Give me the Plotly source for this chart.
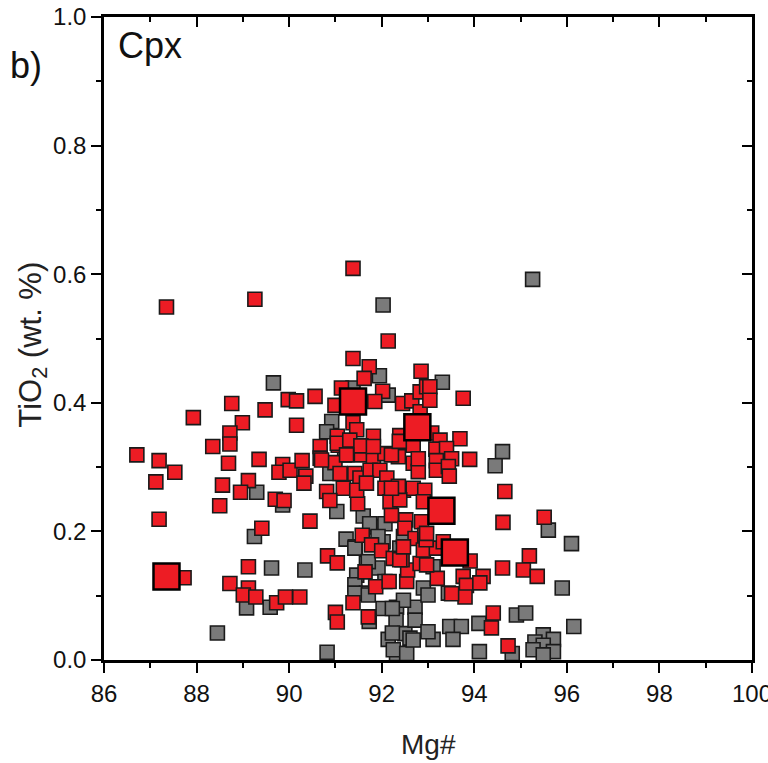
import plotly.graph_objects as go

# Gray (other) Cpx analyses: Mg#, TiO2 wt.%
gray_mg = [89.66, 91.95, 91.38, 92.14, 92.03, 95.26, 93.31, 94.61, 94.45, 90.92,
           90.81, 89.30, 89.86, 89.25, 89.62, 90.34, 89.08, 89.59, 88.45, 90.82,
           91.23, 91.43, 91.60, 91.03, 92.03, 92.32, 92.72, 92.31, 92.50, 92.14,
           92.32, 92.72, 92.90, 92.47, 91.46, 91.67, 91.92, 91.42, 91.67, 92.03,
           92.39, 92.47, 91.89, 92.07, 91.74, 91.42, 91.92, 91.71, 91.42, 91.71,
           91.73, 92.25, 93.00, 93.44, 92.23, 92.23, 92.61, 93.11, 95.60, 96.10,
           95.90, 94.91, 95.11, 94.10, 96.15, 94.82, 94.11, 95.49, 95.71, 95.31,
           95.49, 95.71, 95.27, 95.49, 93.47, 93.72, 93.54, 93.11, 93.00, 92.54,
           92.68, 90.88, 91.20, 92.07]
gray_ti = [0.431, 0.442, 0.423, 0.412, 0.552, 0.592, 0.432, 0.324, 0.302, 0.371,
           0.355, 0.261, 0.241, 0.192, 0.143, 0.140, 0.081, 0.082, 0.042, 0.012,
           0.188, 0.176, 0.224, 0.231, 0.080, 0.082, 0.082, 0.062, 0.041, 0.032,
           0.010, 0.062, 0.112, 0.093, 0.132, 0.150, 0.143, 0.117, 0.104, 0.184,
           0.174, 0.192, 0.207, 0.212, 0.212, 0.174, 0.192, 0.153, 0.104, 0.101,
           0.060, 0.016, 0.101, 0.104, 0.080, 0.042, 0.034, 0.145, 0.202, 0.181,
           0.112, 0.070, 0.073, 0.057, 0.052, 0.010, 0.013, 0.039, 0.032, 0.028,
           0.023, 0.013, 0.016, 0.008, 0.052, 0.052, 0.032, 0.032, 0.044, 0.010,
           0.031, 0.290, 0.319, 0.122]

# Red Cpx analyses (small symbols)
red_mg = [91.38, 87.35, 89.26, 92.14, 91.38, 91.73, 91.62, 92.85, 91.13, 92.02,
          89.98, 90.16, 90.56, 88.76, 89.48, 87.93, 88.99, 90.99, 91.85, 92.45,
          92.65, 92.83, 92.97, 92.83, 91.38, 90.16, 88.72, 88.72, 88.35, 91.46,
          91.82, 92.39, 92.67, 86.71, 87.19, 87.53, 87.12, 87.19, 88.69, 89.35,
          89.86, 89.78, 90.02, 90.28, 90.36, 90.32, 88.56, 89.12, 88.95, 89.70,
          89.89, 88.50, 90.45, 89.41, 87.73, 89.12, 88.72, 89.12, 89.01, 89.28,
          89.73, 89.92, 90.23, 90.83, 91.04, 91.00, 91.04, 91.38, 91.64, 91.87,
          92.16, 92.54, 92.56, 92.44, 91.71, 91.58, 91.78, 92.00, 91.48, 90.67,
          91.06, 90.67, 90.99, 91.31, 91.56, 91.82, 92.07, 92.36, 92.68, 92.68,
          92.79, 91.10, 91.42, 91.53, 91.75, 91.96, 92.11, 91.17, 91.46, 91.67,
          92.07, 92.47, 92.68, 92.93, 90.81, 90.88, 92.18, 92.39, 92.90, 92.21,
          92.52, 92.86, 92.50, 92.72, 92.93, 92.93, 92.25, 92.83, 91.04, 91.04,
          91.31, 91.55, 91.82, 90.70, 91.24, 92.21, 93.04, 93.04, 93.76, 93.08,
          92.38, 93.26, 93.69, 93.17, 93.40, 93.51, 93.90, 93.18, 92.79, 93.18,
          93.44, 93.46, 92.36, 94.66, 95.51, 94.62, 93.91, 95.19, 95.06, 94.61,
          95.36, 93.76, 94.19, 93.83, 93.80, 93.51, 94.12, 94.41, 94.37, 94.73,
          93.20, 92.39, 92.97, 92.90, 93.18, 93.33, 92.96, 92.47, 92.97, 92.21]
red_ti = [0.609, 0.549, 0.561, 0.496, 0.469, 0.456, 0.438, 0.449, 0.423, 0.418,
          0.405, 0.403, 0.410, 0.399, 0.389, 0.377, 0.369, 0.396, 0.402, 0.399,
          0.403, 0.417, 0.425, 0.386, 0.369, 0.365, 0.353, 0.336, 0.332, 0.358,
          0.348, 0.349, 0.337, 0.319, 0.310, 0.292, 0.277, 0.219, 0.306, 0.312,
          0.304, 0.292, 0.295, 0.310, 0.286, 0.275, 0.272, 0.279, 0.261, 0.250,
          0.248, 0.240, 0.216, 0.205, 0.128, 0.145, 0.119, 0.112, 0.101, 0.098,
          0.089, 0.098, 0.098, 0.162, 0.151, 0.074, 0.059, 0.089, 0.137, 0.114,
          0.122, 0.122, 0.140, 0.156, 0.067, 0.194, 0.179, 0.170, 0.243, 0.332,
          0.334, 0.314, 0.307, 0.329, 0.319, 0.316, 0.321, 0.316, 0.334, 0.306,
          0.293, 0.290, 0.290, 0.283, 0.295, 0.295, 0.283, 0.267, 0.264, 0.275,
          0.267, 0.264, 0.267, 0.264, 0.262, 0.248, 0.246, 0.249, 0.246, 0.225,
          0.218, 0.215, 0.205, 0.189, 0.194, 0.174, 0.158, 0.150, 0.348, 0.337,
          0.342, 0.333, 0.332, 0.311, 0.319, 0.319, 0.425, 0.404, 0.407, 0.353,
          0.340, 0.342, 0.344, 0.328, 0.329, 0.313, 0.312, 0.310, 0.313, 0.295,
          0.301, 0.286, 0.270, 0.262, 0.222, 0.214, 0.154, 0.162, 0.140, 0.143,
          0.130, 0.130, 0.130, 0.116, 0.098, 0.103, 0.120, 0.073, 0.050, 0.022,
          0.127, 0.156, 0.148, 0.171, 0.174, 0.184, 0.187, 0.176, 0.197, 0.267]

# Large red symbols
big_mg = [87.35, 91.38, 92.77, 93.29, 93.58]
big_ti = [0.130, 0.402, 0.362, 0.232, 0.167]

FONT = "Liberation Sans, Arial, sans-serif"
RED = "#ED1C24"
GRAY = "#7A7A7A"
EDGE = "#1A1A1A"

fig = go.Figure()
fig.add_trace(go.Scatter(x=gray_mg, y=gray_ti, mode="markers",
                         marker=dict(symbol="square", size=14, color=GRAY,
                                     line=dict(color=EDGE, width=1.6)),
                         showlegend=False))
fig.add_trace(go.Scatter(x=red_mg, y=red_ti, mode="markers",
                         marker=dict(symbol="square", size=14, color=RED,
                                     line=dict(color=EDGE, width=1.6)),
                         showlegend=False))
fig.add_trace(go.Scatter(x=big_mg, y=big_ti, mode="markers",
                         marker=dict(symbol="square", size=26, color=RED,
                                     line=dict(color="#000000", width=2.5)),
                         showlegend=False))
# invisible trace to activate mirror axes
fig.add_trace(go.Scatter(x=[90], y=[0.5], xaxis="x2", yaxis="y2", mode="markers",
                         marker=dict(opacity=0), showlegend=False, hoverinfo="skip"))

axis_common = dict(showline=True, linecolor="black", linewidth=2.5,
                   showgrid=False, zeroline=False, tickcolor="black",
                   tickwidth=2, automargin=False)

fig.update_layout(
    width=768, height=763,
    margin=dict(l=104, r=16, t=17, b=103),
    paper_bgcolor="white", plot_bgcolor="white",
    font=dict(family=FONT, color="black"),
    xaxis=dict(range=[86, 100], dtick=2, tick0=86, ticks="outside", ticklen=10,
               tickfont=dict(size=24, family=FONT, color="#111"),
               ticklabeloverflow="allow",
               minor=dict(dtick=1, ticks="outside", ticklen=5, tickwidth=2, tickcolor="black"),
               **axis_common),
    yaxis=dict(range=[0, 1.0], dtick=0.2, tick0=0, ticks="outside", ticklen=10,
               tickformat=".1f", ticklabeloverflow="allow",
               tickfont=dict(size=24, family=FONT, color="#111"),
               minor=dict(dtick=0.1, ticks="outside", ticklen=5, tickwidth=2, tickcolor="black"),
               **axis_common),
    xaxis2=dict(range=[86, 100], overlaying="x", side="top", dtick=2, tick0=86,
                ticks="inside", ticklen=10, showticklabels=False,
                minor=dict(dtick=1, ticks="inside", ticklen=5, tickwidth=2, tickcolor="black"),
                **axis_common),
    yaxis2=dict(range=[0, 1.0], overlaying="y", side="right", dtick=0.2, tick0=0,
                ticks="inside", ticklen=10, showticklabels=False,
                minor=dict(dtick=0.1, ticks="inside", ticklen=5, tickwidth=2, tickcolor="black"),
                **axis_common),
    annotations=[
        dict(text="Mg#", xref="paper", yref="paper", x=0.5, y=-0.132,
             xanchor="center", yanchor="middle", showarrow=False,
             font=dict(size=28, family=FONT, color="#222")),
        dict(text="TiO<sub>2</sub> (wt. %)", xref="paper", yref="paper", x=-0.11, y=0.49,
             xanchor="center", yanchor="middle", showarrow=False, textangle=-90,
             font=dict(size=31, family=FONT, color="#222")),
        dict(text="Cpx", xref="paper", yref="paper", x=0.018, y=0.955,
             xanchor="left", yanchor="middle", showarrow=False,
             font=dict(size=36, family=FONT, color="#111")),
        dict(text="b)", xref="paper", yref="paper", x=-0.148, y=0.924,
             xanchor="left", yanchor="middle", showarrow=False,
             font=dict(size=36, family=FONT, color="#111")),
    ],
)

fig.write_html("out.html",
               config={"displayModeBar": False},
               post_script="document.body.style.margin='0px';document.body.style.overflow='hidden';")
